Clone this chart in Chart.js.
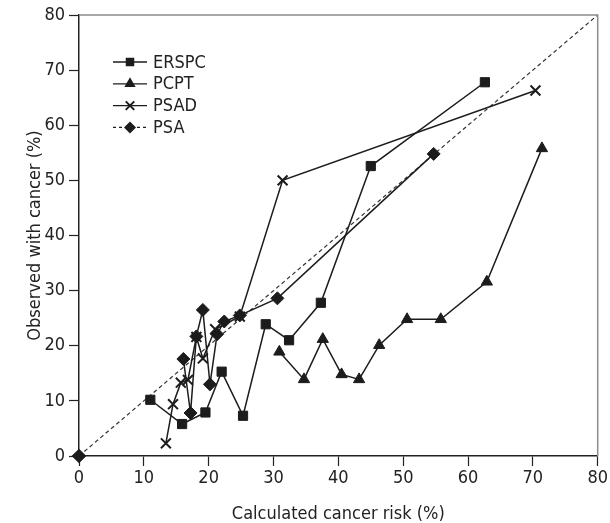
<!DOCTYPE html>
<html>
<head>
<meta charset="utf-8">
<script src="https://cdn.jsdelivr.net/npm/chart.js@4.4.0/dist/chart.umd.min.js"></script>
<style>
  html, body { margin: 0; padding: 0; background: #fff; }
  canvas { display: block; }
</style>
</head>
<body>
<canvas id="calibChart" width="610" height="523"></canvas>
<script>
// decile points (calculated risk %, observed %)
const ersX = [11, 15.9, 19.5, 22, 25.3, 28.8, 32.4, 37.3, 45, 62.6];
const ersY = [10.2, 5.8, 7.9, 15.3, 7.3, 23.9, 21.0, 27.8, 52.6, 67.8];

const pcptX = [30.9, 34.7, 37.6, 40.5, 43.2, 46.3, 50.6, 55.8, 62.9, 71.4];
const pcptY = [18.9, 13.9, 21.2, 14.8, 13.9, 20.1, 24.8, 24.8, 31.6, 55.8];

const psadX = [13.4, 14.5, 15.7, 16.8, 18.1, 19.1, 21.0, 24.8, 31.4, 70.4];
const psadY = [2.3, 9.4, 13.3, 13.8, 21.6, 17.7, 23.0, 25.3, 50.0, 66.3];

const psaX = [16.1, 17.2, 18.1, 19.1, 20.2, 21.3, 22.4, 24.8, 30.6, 54.7];
const psaY = [17.6, 7.8, 21.7, 26.5, 13.0, 22.1, 24.4, 25.5, 28.6, 54.8];

// perfect calibration line
const diagX = [0, 80];
const diagY = [0, 80];

const axisTicks = [0, 10, 20, 30, 40, 50, 60, 70, 80];

const ink = '#1c1c1c';
const toPoints = (xs, ys) => xs.map((x, i) => ({ x: x, y: ys[i] }));

Chart.defaults.font.family = "'Liberation Sans Narrow', 'DejaVu Sans Condensed', sans-serif";
Chart.defaults.font.size = 18;
Chart.defaults.color = '#222';

const legendItems = [
    { label: 'ERSPC', style: 'rect', dash: [] },
    { label: 'PCPT', style: 'triangle', dash: [] },
    { label: 'PSAD', style: 'crossRot', dash: [] },
    { label: 'PSA', style: 'rectRot', dash: [3, 3] }
];

function drawMarker(ctx, style, x, y, r) {
    ctx.save();
    ctx.fillStyle = ink;
    ctx.strokeStyle = ink;
    ctx.setLineDash([]);
    ctx.beginPath();
    if (style === 'rect') {
        const s = r * Math.SQRT1_2;
        ctx.rect(x - s, y - s, 2 * s, 2 * s);
        ctx.fill();
    } else if (style === 'triangle') {
        ctx.moveTo(x, y - r);
        ctx.lineTo(x + r * 0.866, y + r * 0.5);
        ctx.lineTo(x - r * 0.866, y + r * 0.5);
        ctx.closePath();
        ctx.fill();
    } else if (style === 'rectRot') {
        ctx.moveTo(x, y - r);
        ctx.lineTo(x + r, y);
        ctx.lineTo(x, y + r);
        ctx.lineTo(x - r, y);
        ctx.closePath();
        ctx.fill();
    } else {
        const s = r * Math.SQRT1_2;
        ctx.lineWidth = 2;
        ctx.moveTo(x - s, y - s); ctx.lineTo(x + s, y + s);
        ctx.moveTo(x - s, y + s); ctx.lineTo(x + s, y - s);
        ctx.stroke();
    }
    ctx.restore();
}

// grey frame on top/right plus the hand drawn legend
const framePlugin = {
    id: 'frameAndLegend',
    afterDraw(chart) {
        const { ctx, chartArea } = chart;
        ctx.save();
        ctx.strokeStyle = '#8c8c8c';
        ctx.lineWidth = 1.5;
        ctx.beginPath();
        ctx.moveTo(chartArea.left, chartArea.top);
        ctx.lineTo(chartArea.right, chartArea.top);
        ctx.lineTo(chartArea.right, chartArea.bottom);
        ctx.stroke();

        ctx.font = "18px 'Liberation Sans Narrow', 'DejaVu Sans Condensed', sans-serif";
        ctx.textBaseline = 'middle';
        ctx.textAlign = 'left';
        legendItems.forEach((item, i) => {
            const y = 62 + i * 21.8;
            ctx.strokeStyle = ink;
            ctx.lineWidth = 1.3;
            ctx.setLineDash(item.dash);
            ctx.beginPath();
            ctx.moveTo(113, y);
            ctx.lineTo(147, y);
            ctx.stroke();
            drawMarker(ctx, item.style, 130, y, item.style === 'triangle' ? 6.5 : 6);
            ctx.fillStyle = '#222';
            ctx.fillText(item.label, 153, y + 1);
        });
        ctx.restore();
    }
};

const seriesStyle = (style, radius) => ({
    showLine: true,
    borderColor: ink,
    backgroundColor: ink,
    borderWidth: 1.5,
    pointStyle: style,
    pointRadius: radius,
    pointBorderWidth: style === 'crossRot' ? 2 : 1,
    pointBorderColor: ink,
    pointBackgroundColor: ink,
    clip: false
});

const ctx = document.getElementById('calibChart').getContext('2d');

const calibChart = new Chart(ctx, {
    type: 'scatter',
    data: {
        datasets: [
            Object.assign({ label: 'ERSPC', data: toPoints(ersX, ersY) }, seriesStyle('rect', 6.5)),
            Object.assign({ label: 'PCPT', data: toPoints(pcptX, pcptY) }, seriesStyle('triangle', 6.5)),
            Object.assign({ label: 'PSAD', data: toPoints(psadX, psadY) }, seriesStyle('crossRot', 7)),
            Object.assign({ label: 'PSA', data: toPoints(psaX, psaY) }, seriesStyle('rectRot', 6.5)),
            {
                label: 'Reference',
                data: toPoints(diagX, diagY),
                showLine: true,
                borderColor: '#333',
                borderWidth: 1.2,
                borderDash: [4, 3],
                pointStyle: 'rectRot',
                pointRadius: [6.5, 0],
                pointBackgroundColor: ink,
                pointBorderColor: ink,
                clip: false
            }
        ]
    },
    options: {
        responsive: false,
        animation: false,
        layout: { padding: { top: 15, right: 11, left: 0, bottom: 0 } },
        plugins: {
            legend: { display: false },
            tooltip: { enabled: false }
        },
        scales: {
            x: {
                type: 'linear',
                min: 0,
                max: 80,
                afterBuildTicks: (scale) => { scale.ticks = axisTicks.map(v => ({ value: v })); },
                afterFit: (scale) => { scale.height = 67; },
                ticks: { padding: 2, color: '#222' },
                grid: { drawOnChartArea: false, tickLength: 10, tickColor: '#222', tickWidth: 1.2 },
                border: { color: '#222', width: 1.5 },
                title: {
                    display: true,
                    text: 'Calculated cancer risk (%)',
                    color: '#222',
                    padding: { top: 0, bottom: -2 }
                }
            },
            y: {
                type: 'linear',
                min: 0,
                max: 80,
                afterBuildTicks: (scale) => { scale.ticks = axisTicks.map(v => ({ value: v })); },
                afterFit: (scale) => { scale.width = 79; },
                ticks: { padding: 4, color: '#222' },
                grid: { drawOnChartArea: false, tickLength: 10, tickColor: '#222', tickWidth: 1.2 },
                border: { color: '#222', width: 1.5 },
                title: {
                    display: true,
                    text: 'Observed with cancer (%)',
                    color: '#222',
                    padding: { top: 25, bottom: 0 }
                }
            }
        }
    },
    plugins: [framePlugin]
});
</script>
</body>
</html>
